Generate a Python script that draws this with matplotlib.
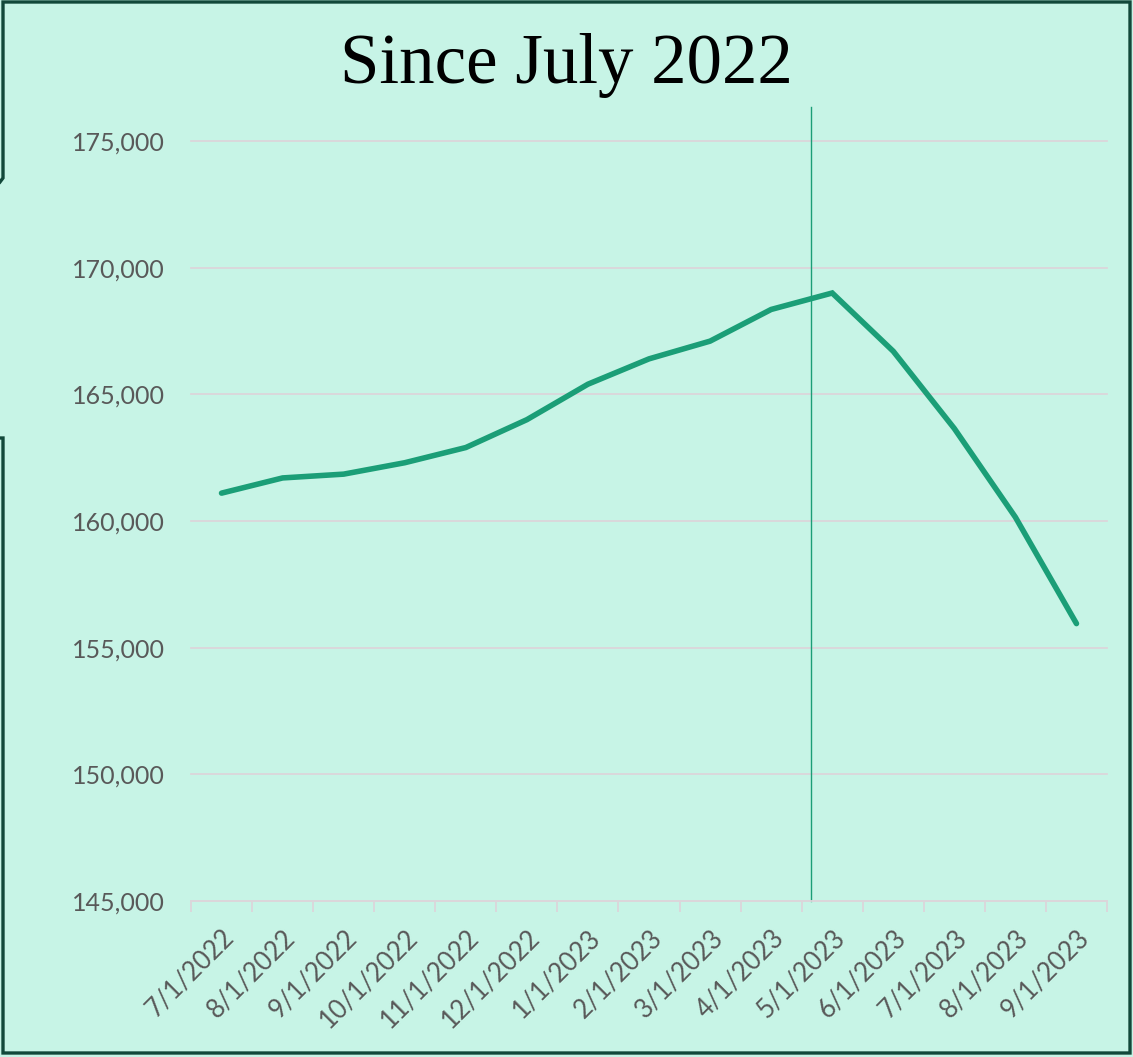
import matplotlib.pyplot as plt
from matplotlib.lines import Line2D
from matplotlib.ticker import FuncFormatter

# monthly values
months = ['7/1/2022', '8/1/2022', '9/1/2022', '10/1/2022', '11/1/2022', '12/1/2022',
          '1/1/2023', '2/1/2023', '3/1/2023', '4/1/2023', '5/1/2023', '6/1/2023',
          '7/1/2023', '8/1/2023', '9/1/2023']
values = [161100, 161700, 161850, 162300, 162900, 164000, 165400, 166400,
          167100, 168350, 169000, 166700, 163650, 160150, 155950]
y_ticks = [145000, 150000, 155000, 160000, 165000, 170000, 175000]
# reference mark just after the start of May 2023 (category units)
marker_x = 10.15

bg = '#C7F4E6'
line_c = '#1B9E77'
grid_c = '#DCD6DA'
text_c = '#595959'
frame_c = '#12483A'

W, H = 1133, 1057
fig = plt.figure(figsize=(W / 100, H / 100), dpi=100)
fig.patch.set_facecolor(bg)

ax = fig.add_axes([191 / W, 1 - 901 / H, (1107 - 191) / W, (901 - 141) / H])
ax.set_facecolor(bg)

xs = [i + 0.5 for i in range(len(months))]
ax.plot(xs, values, color=line_c, lw=4.0, solid_capstyle='round', solid_joinstyle='miter', zorder=3)
ax.axvline(marker_x, ymin=0, ymax=(901 - 107) / (901 - 141), color=line_c, lw=1.0,
           clip_on=False, zorder=2)

ax.set_xlim(0, len(months))
ax.set_ylim(145000, 175000)
ax.set_yticks(y_ticks)
ax.yaxis.set_major_formatter(FuncFormatter(lambda v, p: f'{int(v):,}'))
ax.grid(axis='y', color=grid_c, lw=1.3)
ax.set_axisbelow(True)
for gl in ax.get_ygridlines():
    gl.set_clip_on(False)

ax.set_xticks(xs)
ax.set_xticklabels(months, rotation=45, ha='right', rotation_mode='anchor')
ax.set_xticks(range(len(months) + 1), minor=True)
ax.tick_params(axis='x', which='major', length=0, pad=17, labelsize=18.5, labelcolor=text_c)
ax.tick_params(axis='x', which='minor', length=8, width=1.3, color=grid_c)
ax.tick_params(axis='y', length=0, pad=19, labelsize=18, labelcolor=text_c)
for lab in ax.get_xticklabels() + ax.get_yticklabels():
    lab.set_fontfamily(['Lato', 'DejaVu Sans'])

for s in ['left', 'right', 'top']:
    ax.spines[s].set_visible(False)
ax.spines['bottom'].set_color(grid_c)
ax.spines['bottom'].set_linewidth(1.3)

fig.text(566 / W, 1 - 65 / H, 'Since July 2022', ha='center', va='center',
         fontsize=51, family=['Liberation Serif', 'DejaVu Serif'], color='black')


# outer frame, open on the left side
def px(x, y):
    return x / W, 1 - y / H


frame = [
    [px(0, 182), px(3, 178), px(3, 2), px(1130, 2), px(1130, 1053), px(3, 1053), px(3, 438), px(0, 438)],
]
for pts in frame:
    fx, fy = zip(*pts)
    fig.add_artist(Line2D(fx, fy, transform=fig.transFigure, color=frame_c, lw=2.4,
                          solid_joinstyle='miter'))

fig.savefig('out.png', dpi=100, facecolor=bg)
